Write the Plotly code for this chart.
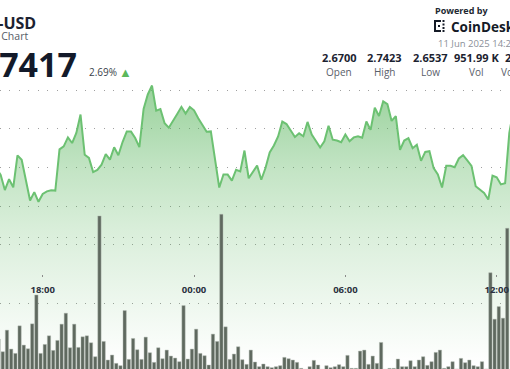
import pandas as pd
import plotly.graph_objects as go

W, H = 510, 369

# ---- data -------------------------------------------------------------
price_start = "2025-06-10 16:10"
price_end = "2025-06-11 12:40"
prices = [2.6997,
    2.6961, 2.6883, 2.6939, 2.6897, 2.7062, 2.7039, 2.6936, 2.6829, 2.6872, 2.6822,
    2.6863, 2.6876, 2.6882, 2.6880, 2.7093, 2.7109, 2.7155, 2.7126, 2.7178, 2.7273,
    2.7065, 2.7049, 2.6976, 2.6987, 2.7014, 2.7069, 2.7040, 2.7104, 2.7063, 2.7131,
    2.7186, 2.7185, 2.7152, 2.7105, 2.7302, 2.7377, 2.7423, 2.7293, 2.7301, 2.7228,
    2.7205, 2.7238, 2.7276, 2.7313, 2.7278, 2.7312, 2.7295, 2.7254, 2.7221, 2.7184,
    2.7186, 2.7049, 2.6896, 2.6963, 2.6963, 2.6932, 2.6988, 2.6979, 2.7087, 2.6944,
    2.6976, 2.7009, 2.6936, 2.6997, 2.7077, 2.7113, 2.7160, 2.7237, 2.7224, 2.7187,
    2.7157, 2.7176, 2.7161, 2.7235, 2.7170, 2.7136, 2.7103, 2.7135, 2.7215, 2.7143,
    2.7139, 2.7130, 2.7170, 2.7135, 2.7155, 2.7161, 2.7153, 2.7237, 2.7194, 2.7308,
    2.7266, 2.7341, 2.7327, 2.7240, 2.7265, 2.7091, 2.7139, 2.7151, 2.7099, 2.7117,
    2.7034, 2.7080, 2.7084, 2.6996, 2.6963, 2.6896, 2.7008, 2.7008, 2.7001, 2.7046,
    2.7063, 2.7036, 2.7008, 2.6903, 2.6886, 2.6868, 2.6834, 2.6957, 2.6949, 2.6912,
    2.6918, 2.7178, 2.7297]

vol_start = "2025-06-10 16:15"
vol_end = "2025-06-11 12:25"
volumes_k = [9.3, 5.5, 12.0, 6.3, 5.0, 13.3, 7.5, 6.4, 13.9, 22.6,
    5.0, 7.7, 10.3, 5.9, 8.9, 13.8, 17.1, 6.7, 13.8, 6.8,
    10.0, 10.3, 8.2, 4.0, 46.4, 8.6, 3.0, 4.5, 2.0, 1.3,
    17.9, 3.2, 9.5, 6.1, 3.2, 9.9, 5.2, 2.3, 6.7, 3.4,
    6.0, 4.2, 3.6, 2.5, 19.4, 3.3, 6.3, 12.3, 5.0, 4.3,
    1.5, 10.8, 8.6, 46.9, 13.0, 3.2, 4.8, 7.0, 3.1, 1.7,
    6.0, 2.4, 1.0, 1.8, 1.0, 0.7, 1.0, 1.3, 3.8, 3.4,
    3.0, 2.3, 0.5, 0.2, 1.0, 2.9, 1.5, 0.2, 1.3, 0.7,
    1.0, 1.6, 1.0, 4.4, 0.5, 0.5, 5.7, 6.0, 1.7, 4.2,
    2.0, 8.3, 0.2, 0.5, 0.5, 3.3, 1.0, 1.0, 2.8, 1.0,
    3.0, 4.0, 1.4, 2.5, 5.3, 6.0, 0.5, 1.0, 2.5, 0.3,
    3.5, 2.2, 3.0, 1.3, 1.0, 2.5, 0.3, 29.3, 15.3, 19.1,
    15.6, 42.7]

price_grid = [2.66, 2.68, 2.70, 2.72, 2.74]
vol_grid = [20, 40]
time_ticks = ["2025-06-10 18:00", "2025-06-11 00:00", "2025-06-11 06:00", "2025-06-11 12:00"]
time_labels = ["18:00", "00:00", "06:00", "12:00"]

stats_values = ["2.6700", "2.7423", "2.6537", "951.99 K", "2.55 M"]
stats_labels = ["Open", "High", "Low", "Vol", "Vol (USD)"]

# ---- build ------------------------------------------------------------
t_price = pd.date_range(price_start, price_end, freq="10min")
t_vol = pd.date_range(vol_start, vol_end, freq="10min")

GREEN = "76,175,80"
fig = go.Figure()
fig.add_trace(go.Scatter(
    x=t_price, y=prices, mode="lines",
    line=dict(color="#6cc172", width=2),
    fill="tozeroy",
    fillgradient=dict(
        type="vertical",
        start=2.5979, stop=2.7430,
        colorscale=[[0, f"rgba({GREEN},0)"], [0.23, f"rgba({GREEN},0.10)"],
                    [0.48, f"rgba({GREEN},0.21)"], [0.69, f"rgba({GREEN},0.33)"],
                    [1, f"rgba({GREEN},0.57)"]]),
    hoverinfo="skip", showlegend=False, yaxis="y"))
fig.add_trace(go.Bar(
    x=t_vol, y=volumes_k, width=471000,
    marker=dict(color="rgb(95,105,95)", line=dict(color="rgba(175,185,175,0.9)", width=0.5)),
    hoverinfo="skip", showlegend=False, yaxis="y2"))

def px(x):
    return x / W

def py(y):
    return 1 - y / H

FONT = "Open Sans"
ann = []
def txt(t, x, y, size, color, xa="left", ya="middle", bold=False):
    ann.append(dict(text=f"<b>{t}</b>" if bold else t, x=px(x), y=py(y), xref="paper", yref="paper",
                    xanchor=xa, yanchor=ya, showarrow=False,
                    font=dict(family=FONT, size=size, color=color)))

txt("XRP-USD", 38, 22.5, 16, "#1b2231", xa="right", bold=True)
txt("24 Hour Chart", 30, 36, 10.5, "#555b66", xa="right")
txt("2.7417", 79, 63.5, 34, "#131a2a", xa="right", bold=True)
txt("2.69%", 87, 72, 10, "#3a3f4a")
txt("▲", 125, 72, 13, "#5cb85c", xa="center")
txt("Powered by", 433, 10, 9, "#222831", bold=True)
txt("CoinDesk", 449, 26.5, 13.5, "#141a26", bold=True)
txt("11 Jun 2025 14:26", 436, 43.5, 9.5, "#8a8f98")
centers = [339, 384, 430, 476, 522]
for c, v, l in zip(centers, stats_values, stats_labels):
    txt(v, c, 58, 11, "#1c2330", xa="center", bold=True)
    txt(l, c, 71.5, 10, "#5a606a", xa="center")

# CoinDesk icon (small dotted square glyph)
shapes = []
for (x0, y0, x1, y1) in [(434, 20, 436, 32), (434, 20, 441, 22), (434, 30, 441, 32)]:
    shapes.append(dict(type="rect", xref="paper", yref="paper", x0=px(x0), x1=px(x1),
                       y0=py(y1), y1=py(y0), fillcolor="#141a26", line=dict(width=0)))
for (cx, cy) in [(443.5, 21), (443.5, 24.5), (443.5, 28), (443.5, 31), (439, 26)]:
    shapes.append(dict(type="rect", xref="paper", yref="paper", x0=px(cx - 1), x1=px(cx + 1),
                       y0=py(cy + 1), y1=py(cy - 1), fillcolor="#141a26", line=dict(width=0)))

# axis ranges computed from pixel positions of gridlines
p_per_px = 0.02 / 38.7
y_lo = 2.74 - (H - 90) * p_per_px
y_hi = 2.74 + 90 * p_per_px
v_per_px = 20 / 66.4
v_lo = (370 - H) * v_per_px
v_hi = 370 * v_per_px

DOT = "1px,8.44px"
fig.update_layout(
    width=W, height=H, margin=dict(l=0, r=0, t=0, b=0, pad=0, autoexpand=False),
    paper_bgcolor="white", plot_bgcolor="white",
    bargap=0, annotations=ann, shapes=shapes,
    xaxis=dict(type="date", range=["2025-06-10 16:18:26", "2025-06-11 12:31:38"],
               showgrid=False, zeroline=False, showline=False, automargin=False,
               anchor="free", position=py(274),
               tickvals=time_ticks, ticktext=time_labels,
               ticks="outside", ticklen=2, tickwidth=1, tickcolor="#8a8a8a",
               ticklabelstandoff=5,
               tickfont=dict(family=FONT, size=9.5, color="#2b3140", weight="bold")),
    yaxis=dict(range=[y_lo, y_hi], tickvals=price_grid, showticklabels=False,
               showgrid=True, gridcolor="#a0a0a0", gridwidth=1, griddash=DOT,
               zeroline=False, ticks="", automargin=False),
    yaxis2=dict(range=[v_lo, v_hi], overlaying="y", side="right", tickvals=vol_grid,
                showticklabels=False, showgrid=True, gridcolor="#a0a0a0", gridwidth=1,
                griddash=DOT, zeroline=False, ticks="", automargin=False),
)

fig.write_html("out.html", config={"displayModeBar": False, "staticPlot": True},
               post_script="document.body.style.margin='0';document.body.style.overflow='hidden';")
